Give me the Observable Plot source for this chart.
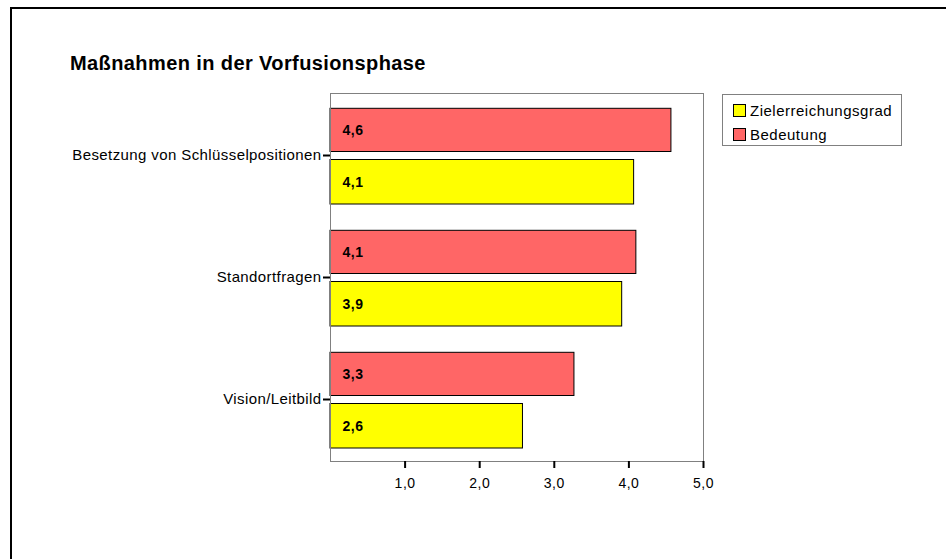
<!DOCTYPE html>
<html><head><meta charset="utf-8">
<script src="https://cdn.jsdelivr.net/npm/d3@7"></script>
<script src="https://cdn.jsdelivr.net/npm/@observablehq/plot@0.6"></script>
<style>
body{margin:0;background:#fff;font-family:Arial,"Liberation Sans",sans-serif}
#wrap{position:relative;width:951px;height:559px;overflow:hidden;background:#fff}
#border{position:absolute;left:10px;top:7px;width:934px;height:600px;border-top:2px solid #000;border-left:2px solid #000}
#title{position:absolute;left:70px;top:52px;font-size:20px;letter-spacing:0.4px;font-weight:bold;color:#000;white-space:nowrap}
#chart{position:absolute;left:0;top:0}
#legend{position:absolute;left:722px;top:94px;width:180px;height:52px;border:1px solid #808080;box-sizing:border-box;font-size:15px;letter-spacing:0.5px;color:#000}
.item{position:absolute;left:10px;height:14px;line-height:14px;white-space:nowrap}
.sw{display:inline-block;width:11px;height:11px;border:1px solid #000;vertical-align:top;margin-right:4px}
#chart g[aria-label="y-axis tick label"]{font-size:15px;letter-spacing:0.4px}
#chart g[aria-label="x-axis tick label"]{font-size:14px;letter-spacing:0.5px}
#chart g.barlab{font-size:14px;letter-spacing:0.5px}
</style></head><body>
<div id="wrap">
 <div id="border"></div>
 <div id="chart"></div>
 <div id="title">Maßnahmen in der Vorfusionsphase</div>
 <div id="legend"></div>
</div>
<script>
const categories = ["Besetzung von Schlüsselpositionen", "Standortfragen", "Vision/Leitbild"];
const seriesNames = ["Zielerreichungsgrad", "Bedeutung"];
const seriesColors = ["#FFFF00", "#FF6666"];
const zielerreichungsgrad = [4.07, 3.91, 2.58];
const bedeutung = [4.57, 4.10, 3.27];
const xTicks = [1, 2, 3, 4, 5];

const fmt = v => v.toFixed(1).replace(".", ",");
const rowsZ = categories.map((c, i) => ({cat: c, series: seriesNames[0], value: zielerreichungsgrad[i]}));
const rowsB = categories.map((c, i) => ({cat: c, series: seriesNames[1], value: bedeutung[i]}));

const plot = Plot.plot({
  width: 951,
  height: 559,
  marginLeft: 330,
  marginRight: 248,
  marginTop: 93,
  marginBottom: 98,
  style: {fontFamily: "Arial, 'Liberation Sans', sans-serif", fontSize: "13px", color: "#000", background: "transparent"},
  x: {domain: [0, 5], axis: null},
  y: {domain: categories, padding: 0, axis: null},
  marks: [
    Plot.barX(rowsB, {y: "cat", x: "value", fill: seriesColors[1], stroke: "#000", strokeWidth: 1, insetTop: 14.3, insetBottom: 64.5}),
    Plot.barX(rowsZ, {y: "cat", x: "value", fill: seriesColors[0], stroke: "#000", strokeWidth: 1, insetTop: 65.5, insetBottom: 12}),
    Plot.text(rowsB, {y: "cat", x: 0, text: d => fmt(d.value), dx: 12, dy: -25, textAnchor: "start", fontWeight: "bold", className: "barlab", fill: "#000"}),
    Plot.text(rowsZ, {y: "cat", x: 0, text: d => fmt(d.value), dx: 12, dy: 27, textAnchor: "start", fontWeight: "bold", className: "barlab", fill: "#000"}),
    Plot.frame({stroke: "#808080", strokeWidth: 1}),
    Plot.axisX(xTicks, {anchor: "bottom", tickFormat: fmt, tickSize: 7, tickPadding: 10, strokeWidth: 2, stroke: "#000", label: null}),
    Plot.axisY({anchor: "left", tickSize: 7, tickPadding: 2, strokeWidth: 2, stroke: "#000", label: null})
  ]
});
document.getElementById("chart").appendChild(plot);

const legend = document.getElementById("legend");
seriesNames.forEach((name, i) => {
  const it = document.createElement("div");
  it.className = "item";
  it.style.top = (9 + i * 24) + "px";
  const sw = document.createElement("span");
  sw.className = "sw";
  sw.style.background = seriesColors[i];
  it.appendChild(sw);
  it.appendChild(document.createTextNode(name));
  legend.appendChild(it);
});
</script>
</body></html>
